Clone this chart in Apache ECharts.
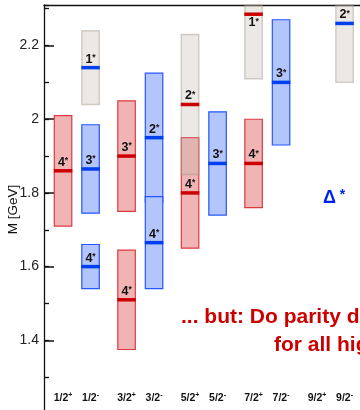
<!DOCTYPE html>
<html><head><meta charset="utf-8">
<script src="https://cdn.jsdelivr.net/npm/echarts@6/dist/echarts.min.js"></script>
<style>html,body{margin:0;padding:0;background:#fff}#c{width:360px;height:410px}</style>
</head><body><div id="c"></div>
<script>
// ---- data ----
const categories = ['1/2+','1/2-','3/2+','3/2-','5/2+','5/2-','7/2+','7/2-','9/2+','9/2-'];
const yTickLabels = [1.4, 1.6, 1.8, 2.0, 2.2];
const stateCategory = ['1/2+','1/2-','1/2-','3/2+','3/2+','3/2-','3/2-','5/2+','5/2-','7/2+','7/2-','1/2-','5/2+','7/2+','9/2-'];
const stateRating   = ['4','3','4','3','4','2','4','4','3','4','3','1','2','1','2'];
const stateStatus   = ['est','est','est','est','est','est','est','est','est','est','est','tent','tent','tent','tent'];
const massLow  = [1.71, 1.745, 1.54, 1.75, 1.375, 1.775, 1.54, 1.65, 1.74, 1.76, 1.93, 2.04, 1.85, 2.11, 2.10];
const massHigh = [2.01, 1.985, 1.66, 2.05, 1.645, 2.125, 1.79, 1.95, 2.02, 2.00, 2.27, 2.24, 2.23, 2.46, 2.42];
const massMean = [1.86, 1.865, 1.60, 1.90, 1.51, 1.95, 1.665, 1.80, 1.88, 1.88, 2.10, 2.14, 2.04, 2.285, 2.26];

// ---- layout helpers ----
const PAIR_OFFSET = 0.433;
function catPos(c) { const i = categories.indexOf(c); return Math.floor(i / 2) + (i % 2) * PAIR_OFFSET; }
const catPositions = categories.map(catPos);
function parityOf(c) { return c.slice(-1); }

const FONT = "'Liberation Sans', Arial, Helvetica, sans-serif";
const COL = {
  '+': { fill: '#f1b4b5', stroke: '#dc3a40', line: '#cc0000' },
  '-': { fill: '#b4c5fb', stroke: '#2457ff', line: '#0040ee' }
};

function buildData(status) {
  const out = [];
  for (let i = 0; i < stateCategory.length; i++) {
    if (stateStatus[i] !== status) continue;
    out.push([catPos(stateCategory[i]), massLow[i], massHigh[i], massMean[i], i]);
  }
  return out;
}

function renderState(params, api) {
  const x = api.value(0);
  const idx = api.value(4);
  const p = parityOf(stateCategory[idx]);
  const tent = stateStatus[idx] === 'tent';
  const lo = api.coord([x, api.value(1)]);
  const hi = api.coord([x, api.value(2)]);
  const m = api.coord([x, api.value(3)]);
  const w = 17.5;
  const cs = params.coordSys;
  const rect = echarts.graphic.clipRectByRect(
    { x: lo[0] - w / 2, y: hi[1], width: w, height: lo[1] - hi[1] },
    { x: cs.x, y: cs.y, width: cs.width, height: cs.height }
  );
  const children = [];
  if (rect) {
    children.push({
      type: 'rect', shape: rect,
      style: tent
        ? { fill: 'rgba(190,180,170,0.30)', stroke: 'rgba(165,150,135,0.45)', lineWidth: 1.4 }
        : { fill: COL[p].fill, stroke: COL[p].stroke, lineWidth: 1.2 }
    });
  }
  children.push({
    type: 'rect', shape: { x: m[0] - w / 2 - 0.5, y: m[1] - 1.75, width: w + 1, height: 3.5 },
    style: { fill: COL[p].line }
  });
  const below = (m[1] - 2.5 - 12) < cs.y;
  children.push({
    type: 'text',
    style: {
      x: m[0], y: below ? m[1] + 2.5 : m[1] - 2.5, align: 'center', verticalAlign: below ? 'top' : 'bottom',
      text: '{n|' + stateRating[idx] + '}{s|*}',
      rich: {
        n: { fontSize: 12.5, fontWeight: 'bold', fontFamily: FONT, fill: '#111', lineHeight: 12 },
        s: { fontSize: 8.5, fontWeight: 'bold', fontFamily: FONT, fill: '#111', lineHeight: 12, verticalAlign: 'top' }
      }
    }
  });
  return { type: 'group', children };
}

const chart = echarts.init(document.getElementById('c'), null, { renderer: 'canvas' });
chart.setOption({
  animation: false,
  backgroundColor: '#fff',
  grid: { left: 44, right: 0, top: 5, bottom: -4, containLabel: false, outerBoundsMode: 'none' },
  xAxis: [
    {
      type: 'value', position: 'bottom', min: -0.3, max: 4.676,
      axisLine: { show: false, onZero: false }, axisTick: { show: false }, splitLine: { show: false },
      axisLabel: {
        inside: true, margin: 10, customValues: catPositions,
        formatter: function (v) {
          let best = 0, bd = 1e9;
          catPositions.forEach(function (pp, i) { const d = Math.abs(pp - v); if (d < bd) { bd = d; best = i; } });
          const c = categories[best];
          return '{a|' + c.slice(0, -1) + '}{b|' + c.slice(-1) + '}';
        },
        rich: {
          a: { fontSize: 10.5, fontWeight: 'bold', fontFamily: FONT, color: '#111', lineHeight: 12 },
          b: { fontSize: 7, fontWeight: 'bold', fontFamily: FONT, color: '#111', lineHeight: 12, verticalAlign: 'top' }
        }
      }
    },
    {
      type: 'value', position: 'top', min: -0.3, max: 4.676,
      axisLine: { show: true, onZero: false, lineStyle: { color: '#111', width: 1.3 } },
      axisTick: { show: false }, axisLabel: { show: false }, splitLine: { show: false }
    }
  ],
  yAxis: [
    {
      type: 'value', position: 'left', min: 1.2, max: 2.31, interval: 0.2,
      name: 'M [GeV]', nameLocation: 'middle', nameGap: 24, nameRotate: 90, nameMoveOverlap: false,
      nameTextStyle: { fontSize: 13.5, fontFamily: FONT, color: '#111' },
      axisLine: { show: true, onZero: false, lineStyle: { color: '#111', width: 1.3 } },
      axisTick: { show: true, inside: true, length: 10, lineStyle: { color: '#111', width: 1.5 } },
      axisLabel: {
        margin: 5, fontSize: 14, fontFamily: FONT, color: '#222',
        showMinLabel: false, showMaxLabel: false,
        formatter: function (v) {
          const hit = yTickLabels.find(function (t) { return Math.abs(t - v) < 1e-6; });
          return hit === undefined ? '' : String(hit);
        }
      },
      splitLine: { show: false }
    },
    {
      type: 'value', position: 'left', offset: 0, min: 1.2, max: 2.31, interval: 0.1,
      axisLine: { show: false, onZero: false },
      axisTick: { show: true, inside: true, length: 5, lineStyle: { color: '#111', width: 1.3 } },
      axisLabel: { show: false }, splitLine: { show: false }
    }
  ],
  series: [
    { type: 'custom', xAxisIndex: 0, yAxisIndex: 0, renderItem: renderState, data: buildData('est'), z: 2 },
    { type: 'custom', xAxisIndex: 0, yAxisIndex: 0, renderItem: renderState, data: buildData('tent'), z: 3 }
  ],
  graphic: [
    { type: 'text', z: 10, style: { x: 181, y: 317, text: '... but: Do parity doublets', font: 'bold 21px ' + FONT, fill: '#cc0000', verticalAlign: 'middle' } },
    { type: 'text', z: 10, style: { x: 274, y: 345, text: 'for all higher', font: 'bold 21px ' + FONT, fill: '#cc0000', verticalAlign: 'middle' } },
    { type: 'text', z: 10, style: { x: 323, y: 198, verticalAlign: 'middle',
      text: '{d|Δ}{s| *}',
      rich: {
        d: { fontSize: 18, fontWeight: 'bold', fontFamily: FONT, fill: '#0022ee', lineHeight: 20 },
        s: { fontSize: 14, fontWeight: 'bold', fontFamily: FONT, fill: '#0022ee', lineHeight: 20, verticalAlign: 'top' }
      } } }
  ]
});
</script></body></html>
